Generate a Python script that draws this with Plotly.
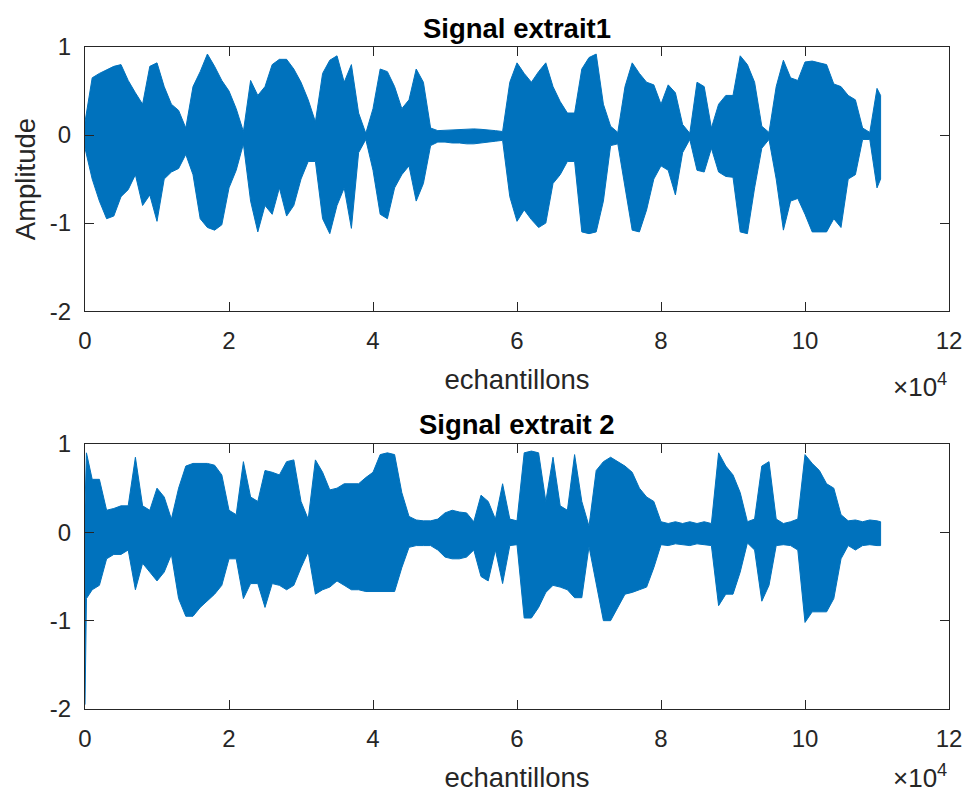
import plotly.graph_objects as go

# ---------------- data (envelope of each signal) ----------------
# sample positions (samples); signal 1 on a 1000-sample grid
x1 = [k * 1000 for k in range(111)] + [110500]
upper1 = [0.15, 0.65, 0.7, 0.74, 0.78, 0.8, 0.62, 0.48, 0.35, 0.78,
          0.82, 0.55, 0.35, 0.28, 0.08, 0.55, 0.72, 0.92, 0.78, 0.62,
          0.5, 0.3, 0.04, 0.62, 0.45, 0.55, 0.8, 0.86, 0.86, 0.75,
          0.6, 0.4, 0.15, 0.7, 0.85, 0.9, 0.6, 0.8, 0.25, 0.02,
          0.3, 0.75, 0.72, 0.55, 0.3, 0.4, 0.75, 0.6, 0.08, 0.05,
          0.055, 0.06, 0.065, 0.07, 0.07, 0.065, 0.06, 0.05, 0.04, 0.6,
          0.82, 0.7, 0.6, 0.72, 0.82, 0.55, 0.38, 0.25, 0.25, 0.75,
          0.88, 0.92, 0.35, 0.1, 0.03, 0.55, 0.82, 0.7, 0.6, 0.57,
          0.35, 0.57, 0.48, 0.12, 0.02, 0.6, 0.55, 0.08, 0.35, 0.45,
          0.45, 0.9, 0.8, 0.6, 0.1, 0.03, 0.55, 0.85, 0.65, 0.62,
          0.83, 0.84, 0.82, 0.8, 0.58, 0.55, 0.45, 0.4, 0.08, 0.03,
          0.53, 0.45]
lower1 = [-0.15, -0.5, -0.75, -0.95, -0.92, -0.7, -0.62, -0.45, -0.8, -0.68,
          -0.98, -0.5, -0.42, -0.38, -0.22, -0.45, -0.95, -1.05, -1.08, -1.02,
          -0.6, -0.4, -0.1, -0.75, -1.1, -0.8, -0.9, -0.6, -0.92, -0.8,
          -0.5, -0.3, -0.3, -0.95, -1.12, -0.8, -0.6, -1.06, -0.2, -0.05,
          -0.4, -0.9, -0.95, -0.6, -0.45, -0.35, -0.75, -0.55, -0.12, -0.08,
          -0.08, -0.09, -0.09, -0.1, -0.1, -0.09, -0.08, -0.07, -0.06, -0.7,
          -0.98, -0.85, -0.96, -1.05, -1.0, -0.55, -0.45, -0.3, -0.3, -1.1,
          -1.12, -1.1, -0.75, -0.12, -0.1, -0.6, -1.08, -1.1, -0.85, -0.5,
          -0.35, -0.4, -0.68, -0.2, -0.05, -0.4, -0.42, -0.15, -0.42, -0.47,
          -0.48, -1.1, -1.12, -0.6, -0.15, -0.05, -0.5, -1.08, -0.75, -0.72,
          -0.9, -1.1, -1.1, -1.1, -0.95, -1.05, -0.5, -0.45, -0.05, -0.05,
          -0.6, -0.5]

# signal 2: extra point near the start for the initial spike
x2 = [0, 200] + [k * 1000 for k in range(1, 111)] + [110500]
upper2 = [0.3, 0.9,
          0.6, 0.6, 0.25, 0.27, 0.3, 0.3, 0.85, 0.3, 0.25,
          0.5, 0.4, 0.15, 0.5, 0.75, 0.78, 0.78, 0.78, 0.76, 0.65,
          0.25, 0.2, 0.8, 0.4, 0.35, 0.7, 0.68, 0.65, 0.8, 0.82,
          0.35, 0.15, 0.82, 0.68, 0.48, 0.5, 0.55, 0.55, 0.55, 0.62,
          0.68, 0.88, 0.9, 0.88, 0.45, 0.18, 0.14, 0.13, 0.13, 0.15,
          0.22, 0.25, 0.23, 0.22, 0.12, 0.42, 0.35, 0.15, 0.55, 0.15,
          0.13, 0.9, 0.92, 0.9, 0.35, 0.85, 0.3, 0.25, 0.88, 0.35,
          0.07, 0.7, 0.8, 0.85, 0.8, 0.75, 0.68, 0.5, 0.4, 0.35,
          0.12, 0.1, 0.12, 0.1, 0.12, 0.1, 0.12, 0.1, 0.9, 0.75,
          0.65, 0.45, 0.12, 0.15, 0.75, 0.8, 0.15, 0.1, 0.12, 0.15,
          0.88, 0.78, 0.7, 0.55, 0.5, 0.2, 0.13, 0.14, 0.12, 0.14,
          0.13, 0.12]
lower2 = [-1.95, -0.75,
          -0.65, -0.6, -0.3, -0.25, -0.25, -0.2, -0.65, -0.35, -0.45,
          -0.55, -0.45, -0.25, -0.75, -0.95, -0.95, -0.85, -0.77, -0.7, -0.6,
          -0.3, -0.3, -0.75, -0.58, -0.58, -0.85, -0.58, -0.6, -0.65, -0.6,
          -0.4, -0.22, -0.7, -0.65, -0.62, -0.55, -0.6, -0.65, -0.65, -0.67,
          -0.67, -0.67, -0.67, -0.67, -0.4, -0.17, -0.15, -0.15, -0.15, -0.2,
          -0.28, -0.3, -0.3, -0.28, -0.2, -0.5, -0.55, -0.2, -0.58, -0.15,
          -0.14, -0.97, -0.97, -0.85, -0.68, -0.6, -0.62, -0.65, -0.74, -0.74,
          -0.16, -0.57, -1.0, -1.0, -0.85, -0.7, -0.68, -0.65, -0.62, -0.4,
          -0.14, -0.15, -0.13, -0.14, -0.15, -0.13, -0.14, -0.15, -0.83, -0.7,
          -0.7, -0.45, -0.12, -0.2, -0.78, -0.6, -0.15, -0.14, -0.15, -0.2,
          -1.02, -0.9, -0.9, -0.9, -0.75, -0.3, -0.15, -0.2, -0.15, -0.14,
          -0.15, -0.15]

xtick_vals = [0, 20000, 40000, 60000, 80000, 100000, 120000]
xtick_text = ["0", "2", "4", "6", "8", "10", "12"]
ytick_vals = [-2, -1, 0, 1]
ytick_text = ["-2", "-1", "0", "1"]
titles = ["Signal extrait1", "Signal extrait 2"]

# ---------------- figure ----------------
BLUE = "#0072BD"
AX = "#262626"
FONT = "Liberation Sans, Arial, Helvetica, sans-serif"

fig = go.Figure()
for xs, up, lo, xa, ya in [(x1, upper1, lower1, "x", "y"), (x2, upper2, lower2, "x2", "y2")]:
    fig.add_trace(go.Scatter(
        x=xs + xs[::-1], y=up + lo[::-1], mode="lines", fill="toself",
        fillcolor=BLUE, line=dict(color=BLUE, width=1), xaxis=xa, yaxis=ya,
        hoverinfo="skip", showlegend=False))

common_x = dict(range=[0, 120000], tickvals=xtick_vals, ticktext=xtick_text,
                showline=True, mirror="ticks", linecolor=AX, linewidth=1,
                ticks="inside", ticklen=9, tickcolor=AX, showgrid=False, zeroline=False,
                tickfont=dict(size=24, color=AX, family=FONT), ticklabelstandoff=8,
                ticklabeloverflow="allow",
                title=dict(text="echantillons", font=dict(size=27.5, color=AX, family=FONT), standoff=16))
common_y = dict(range=[-2, 1], tickvals=ytick_vals, ticktext=ytick_text,
                showline=True, mirror="ticks", linecolor=AX, linewidth=1,
                ticks="inside", ticklen=9, tickcolor=AX, showgrid=False, zeroline=False,
                tickfont=dict(size=24, color=AX, family=FONT), ticklabelstandoff=8)

# page body has an 8px margin, so the figure is shifted by 8px
fig.update_layout(
    width=962, height=785,
    margin=dict(l=77, r=21, t=39, b=84, autoexpand=False),
    paper_bgcolor="white", plot_bgcolor="white",
    font=dict(family=FONT, color=AX),
    xaxis=dict(domain=[0, 1], anchor="y", **common_x),
    yaxis=dict(domain=[0.601, 1], anchor="x",
               title=dict(text="Amplitude", font=dict(size=27.5, color=AX, family=FONT), standoff=6),
               **common_y),
    xaxis2=dict(domain=[0, 1], anchor="y2", **common_x),
    yaxis2=dict(domain=[0, 0.4003], anchor="x2", **common_y),
)

H = 662.0
def py(pix):
    return (709.0 - pix) / H

fig.add_annotation(text="<b>%s</b>" % titles[0], x=0.5, y=py(28), xref="paper", yref="paper",
                   showarrow=False, xanchor="center", yanchor="middle",
                   font=dict(size=27.5, color="black", family=FONT))
fig.add_annotation(text="<b>%s</b>" % titles[1], x=0.5, y=py(424), xref="paper", yref="paper",
                   showarrow=False, xanchor="center", yanchor="middle",
                   font=dict(size=27.5, color="black", family=FONT))
for yc in (385, 776):
    fig.add_annotation(text="×10<sup>4</sup>", x=1.0, y=py(yc), xref="paper", yref="paper",
                       showarrow=False, xanchor="right", yanchor="middle",
                       font=dict(size=26, color=AX, family=FONT))

fig.write_html("out.html")
